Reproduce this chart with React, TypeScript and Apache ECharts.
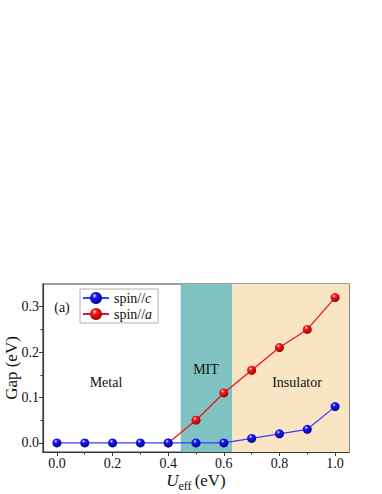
import React, { useEffect, useRef } from "react";
import * as echarts from "echarts";

const uValues = [0, 0.1, 0.2, 0.3, 0.4, 0.5, 0.6, 0.7, 0.8, 0.9, 1.0];
const spinC = [0, 0, 0, 0, 0, 0, 0, 0.01, 0.02, 0.03, 0.08];
const spinA = [null, null, null, null, 0, 0.05, 0.11, 0.16, 0.21, 0.25, 0.32];
const xMajorTicks = [0, 0.2, 0.4, 0.6, 0.8, 1.0];
const xMinorTicks = [0.1, 0.3, 0.5, 0.7, 0.9];
const yMajorTicks = [0, 0.1, 0.2, 0.3];
const yMinorTicks = [0.05, 0.15, 0.25];
const regions = [
  { name: "MIT", from: 0.445, to: 0.63 },
  { name: "Insulator", from: 0.63, to: 1.05 },
];

const FONT = "Liberation Serif";
const AXIS_COLOR = "#3a3a3a";

function sphere(main: string, dark: string) {
  return {
    type: "radial",
    x: 0.38,
    y: 0.32,
    r: 0.75,
    colorStops: [
      { offset: 0, color: "#ffffff" },
      { offset: 0.25, color: main },
      { offset: 1, color: dark },
    ],
  };
}

export default function App() {
  const ref = useRef<HTMLDivElement>(null);
  useEffect(() => {
    document.body.style.margin = "0";
    const chart = echarts.init(ref.current!, null, { renderer: "svg" });
    const xBase = {
      type: "value",
      min: -0.05,
      max: 1.05,
      splitLine: { show: false },
    };
    const yBase = {
      type: "value",
      min: -0.02,
      max: 0.35,
      splitLine: { show: false },
    };
    const txt = (text: string, x: number, y: number) => ({
      type: "text",
      x,
      y,
      z: 100,
      style: {
        text,
        fontFamily: FONT,
        fontSize: 14,
        fill: "#111",
        align: "center",
        verticalAlign: "middle",
      },
    });
    const option: any = {
      animation: false,
      backgroundColor: "#ffffff",
      textStyle: { fontFamily: FONT },
      grid: {
        left: 43,
        right: 33,
        top: 284,
        bottom: 42,
        outerBoundsMode: "none",
        containLabel: false,
        show: true,
        borderColor: AXIS_COLOR,
        borderWidth: 1.2,
        backgroundColor: "transparent",
      },
      xAxis: [
        {
          ...xBase,
          name: "{i|U}{s|eff} {n|(eV)}",
          nameLocation: "middle",
          nameGap: 17,
          nameMoveOverlap: false,
          nameTextStyle: {
            rich: {
              i: { fontFamily: FONT, fontStyle: "italic", fontSize: 17, color: "#111" },
              s: { fontFamily: FONT, fontSize: 12, color: "#111", padding: [11, 0, 0, 0] },
              n: { fontFamily: FONT, fontSize: 17, color: "#111" },
            },
          },
          axisLine: { show: true, onZero: false, lineStyle: { color: AXIS_COLOR, width: 1.2 } },
          axisTick: {
            show: true,
            inside: false,
            length: 4,
            customValues: xMajorTicks,
            lineStyle: { color: AXIS_COLOR, width: 1 },
          },
          axisLabel: {
            customValues: xMajorTicks,
            formatter: (v: number) => v.toFixed(1),
            fontFamily: FONT,
            fontSize: 14,
            color: "#111",
            margin: 4,
          },
        },
        {
          ...xBase,
          position: "bottom",
          axisLine: { show: false, onZero: false },
          axisTick: {
            show: true,
            length: 2.5,
            customValues: xMinorTicks,
            lineStyle: { color: AXIS_COLOR, width: 1 },
          },
          axisLabel: { show: false },
        },
      ],
      yAxis: [
        {
          ...yBase,
          name: "Gap (eV)",
          nameLocation: "middle",
          nameGap: 23,
          nameMoveOverlap: false,
          nameTextStyle: { fontFamily: FONT, fontSize: 17, color: "#111" },
          axisLine: { show: true, onZero: false, lineStyle: { color: AXIS_COLOR, width: 1.2 } },
          axisTick: {
            show: true,
            length: 4,
            customValues: yMajorTicks,
            lineStyle: { color: AXIS_COLOR, width: 1 },
          },
          axisLabel: {
            customValues: yMajorTicks,
            formatter: (v: number) => v.toFixed(1),
            fontFamily: FONT,
            fontSize: 14,
            color: "#111",
            margin: 4,
          },
        },
        {
          ...yBase,
          position: "left",
          axisLine: { show: false, onZero: false },
          axisTick: {
            show: true,
            length: 2.5,
            customValues: yMinorTicks,
            lineStyle: { color: AXIS_COLOR, width: 1 },
          },
          axisLabel: { show: false },
        },
      ],
      legend: {
        orient: "vertical",
        left: 80,
        top: 289,
        padding: [2, 6, 2, 2],
        itemGap: 2,
        itemWidth: 26,
        itemHeight: 15,
        borderColor: "#b0b0b0",
        borderWidth: 1,
        backgroundColor: "#ffffff",
        data: ["spin//c", "spin//a"],
        formatter: (name: string) => "{n|spin//}{i|" + name.slice(-1) + "}",
        textStyle: {
          rich: {
            n: { fontFamily: FONT, fontSize: 14, color: "#111" },
            i: { fontFamily: FONT, fontSize: 14, fontStyle: "italic", color: "#111" },
          },
        },
      },
      graphic: [
        txt("(a)", 62, 307),
        txt("Metal", 106, 382),
        txt("MIT", 206, 369),
        txt("Insulator", 297, 382),
      ],
      series: [
        {
          name: "spin//a",
          type: "line",
          data: uValues.map((u, i) => [u, spinA[i]]).filter((d) => d[1] !== null),
          symbol: "circle",
          symbolSize: 9,
          lineStyle: { color: "#ee1111", width: 1.2 },
          itemStyle: { color: sphere("#ff1a1a", "#8a0000"), borderWidth: 0 },
          z: 3,
          markArea: {
            silent: true,
            data: [
              [
                { xAxis: regions[0].from, itemStyle: { color: "#80c1c1" } },
                { xAxis: regions[0].to },
              ],
              [
                { xAxis: regions[1].from, itemStyle: { color: "#f9e5c3" } },
                { xAxis: regions[1].to },
              ],
            ],
          },
        },
        {
          name: "spin//c",
          type: "line",
          data: uValues.map((u, i) => [u, spinC[i]]),
          symbol: "circle",
          symbolSize: 9,
          lineStyle: { color: "#3b3bff", width: 1.2 },
          itemStyle: { color: sphere("#1a1aff", "#00007a"), borderWidth: 0 },
          z: 4,
        },
      ],
    };
    chart.setOption(option);
    return () => chart.dispose();
  }, []);
  return (
    <div
      ref={ref}
      style={{ position: "absolute", left: 0, top: 0, width: 382, height: 494 }}
    />
  );
}
